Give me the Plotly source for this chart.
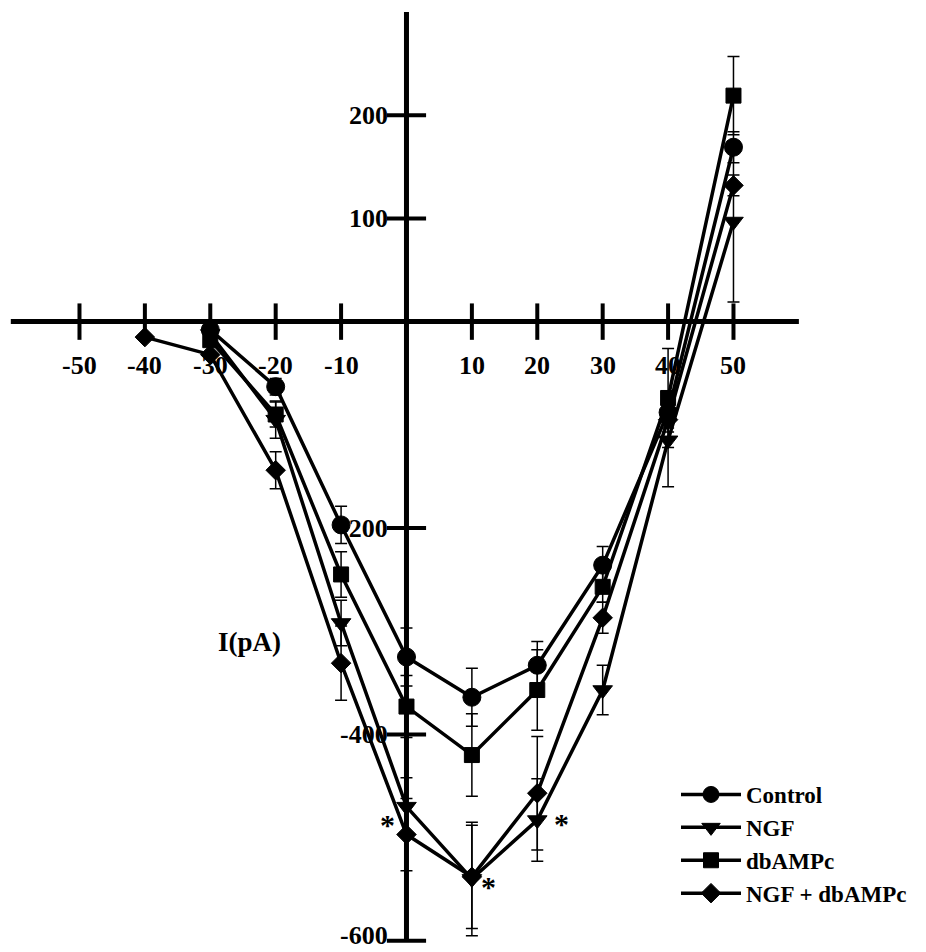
import plotly.graph_objects as go

# ---- data ----
voltage = [-40, -30, -20, -10, 0, 10, 20, 30, 40, 50]
control = [None, -8, -63, -197, -325, -364, -333, -236, -88, 169]
control_err = [0, 0, 8, 18, 28, 28, 23, 18, 15, 15]
ngf = [None, -12, -95, -292, -470, -540, -483, -357, -115, 97]
ngf_err = [0, 0, 18, 22, 28, 55, 40, 24, 45, 78]
dbampc = [None, -18, -90, -245, -373, -420, -357, -257, -74, 219]
dbampc_err = [0, 0, 12, 22, 30, 40, 39, 15, 48, 38]
ngf_db = [-15, -32, -144, -331, -497, -538, -457, -287, -95, 132]
ngf_db_err = [0, 0, 18, 36, 35, 50, 55, 15, 12, 10]

x_ticks = [-50, -40, -30, -20, -10, 10, 20, 30, 40, 50]
x_tick_labels = ["-50", "-40", "-30", "-20", "-10", "10", "20", "30", "40", "50"]
y_ticks = [200, 100, -200, -400, -600]
y_tick_labels = ["200", "100", "-200", "-400", "-600"]

star_x = [0, 10, 20]
star_y = [-497, -540, -483]
star_dx = [-19, 17, 24]
star_dy = [10, -8, -3]

FONT = "Liberation Serif"
BLACK = "black"
OFF = 8  # page body margin in px

fig = go.Figure()

# tick marks
fig.add_trace(go.Scatter(x=x_ticks, y=[0] * len(x_ticks), mode="markers",
                         marker=dict(symbol="line-ns", size=26, line=dict(width=4, color=BLACK)),
                         showlegend=False, hoverinfo="skip"))
fig.add_trace(go.Scatter(x=[0] * len(y_ticks), y=y_ticks, mode="markers",
                         marker=dict(symbol="line-ew", size=28, line=dict(width=4, color=BLACK)),
                         showlegend=False, hoverinfo="skip"))

series = [
    ("Control", control, control_err, "circle", 18),
    ("NGF", ngf, ngf_err, "triangle-down", 17),
    ("dbAMPc", dbampc, dbampc_err, "square", 15),
    ("NGF + dbAMPc", ngf_db, ngf_db_err, "diamond", 15),
]
for name, vals, errs, sym, sz in series:
    fig.add_trace(go.Scatter(
        x=voltage, y=vals, name=name, mode="lines+markers",
        line=dict(color=BLACK, width=3.5),
        marker=dict(symbol=sym, size=sz, color=BLACK, line=dict(color=BLACK, width=1)),
        error_y=dict(type="data", array=errs, visible=True, color=BLACK,
                     thickness=1.5, width=6),
        connectgaps=False,
    ))

# axis lines
fig.add_shape(type="line", x0=-60.5, x1=60, y0=0, y1=0, xref="x", yref="y",
              line=dict(color=BLACK, width=5), layer="below")
fig.add_shape(type="line", x0=0, x1=0, y0=-600, y1=300, xref="x", yref="y",
              line=dict(color=BLACK, width=5), layer="below")

annotations = []
for t, lab in zip(x_ticks, x_tick_labels):
    annotations.append(dict(x=t, y=0, xref="x", yref="y", text=lab, showarrow=False,
                            xanchor="center", yanchor="middle", yshift=-44,
                            font=dict(family=FONT, size=26, color=BLACK, weight="bold")))
for t, lab in zip(y_ticks, y_tick_labels):
    annotations.append(dict(x=0, y=t, xref="x", yref="y", text=lab, showarrow=False,
                            xanchor="right", yanchor="middle", xshift=-16,
                            yshift=5 if t == min(y_ticks) else 0,
                            font=dict(family=FONT, size=26, color=BLACK, weight="bold")))
for sx, sy, dx, dy in zip(star_x, star_y, star_dx, star_dy):
    annotations.append(dict(x=sx, y=sy, xref="x", yref="y", text="*", showarrow=False,
                            xanchor="center", yanchor="middle", xshift=dx, yshift=dy,
                            font=dict(family=FONT, size=30, color=BLACK, weight="bold")))
annotations.append(dict(x=(250 - OFF) / 926, y=1 - (642 - OFF) / 952, xref="paper", yref="paper",
                        text="I(pA)", showarrow=False, xanchor="center", yanchor="middle",
                        font=dict(family=FONT, size=27, color=BLACK, weight="bold")))

fig.update_layout(
    width=926, height=952,
    margin=dict(l=0, r=0, t=0, b=0),
    paper_bgcolor="white", plot_bgcolor="white",
    xaxis=dict(range=[-60.93, 80.66], visible=False),
    yaxis=dict(range=[-618.6, 303.9], visible=False),
    annotations=annotations,
    showlegend=True,
    legend=dict(x=(682 - OFF - 6) / 926, y=1 - (773 - OFF) / 952, xanchor="left", yanchor="top",
                bgcolor="rgba(0,0,0,0)", itemwidth=60,
                font=dict(family=FONT, size=23, color=BLACK, weight="bold"),
                tracegroupgap=0),
    font=dict(family=FONT, color=BLACK),
)

fig.write_html("out.html")
